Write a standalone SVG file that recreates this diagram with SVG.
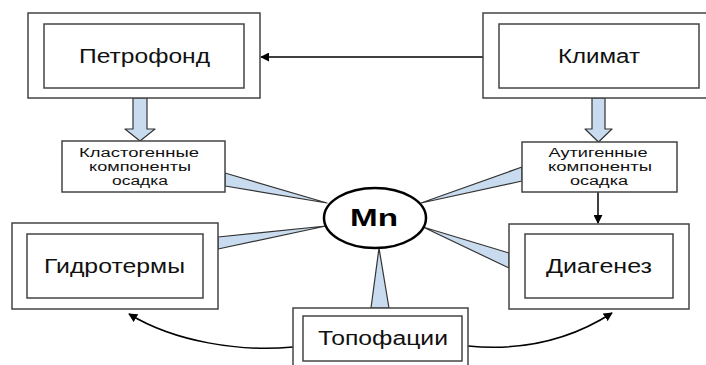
<svg xmlns="http://www.w3.org/2000/svg" width="706" height="365" viewBox="0 0 706 365">
<defs>
<marker id="ah" viewBox="0 0 10 10" refX="9" refY="5" markerWidth="9" markerHeight="9" markerUnits="userSpaceOnUse" orient="auto">
<path d="M0,0 L10,5 L0,10 z" fill="#000"/>
</marker>
</defs>
<style>
.box{fill:#fff;stroke:#444;stroke-width:1.5}
.lbl{font-family:"Liberation Sans",Arial,sans-serif;font-size:20px;fill:#111;text-anchor:middle}
.sm{font-family:"Liberation Sans",Arial,sans-serif;font-size:12.5px;fill:#111;text-anchor:middle}
.wedge{fill:#c9dcef;stroke:#333;stroke-width:1.2;stroke-linejoin:round}
.line{fill:none;stroke:#000;stroke-width:1.5}
</style>
<rect width="706" height="365" fill="#fff"/>
<g id="connectors">
<line class="line" x1="483" y1="57" x2="261" y2="57" marker-end="url(#ah)"/>
<path class="wedge" d="M133,98 V129 H125 L140,141 L155,129 H147 V98 Z"/>
<path class="wedge" d="M592,98 V129 H585 L598.5,142 L612,129 H605 V98 Z"/>
<line class="line" x1="598" y1="192" x2="598" y2="223" marker-end="url(#ah)"/>
<path class="wedge" d="M225,173 L327,203 L225,186 Z"/>
<path class="wedge" d="M218,237 L326,226 L218,249 Z"/>
<path class="wedge" d="M522,167 L421,203 L522,181 Z"/>
<path class="wedge" d="M509,253 L423,227 L509,268 Z"/>
<path class="wedge" d="M371,308 L379,248 L389,308 Z"/>
<path class="line" d="M293,347 C240,352 175,342 129,314" marker-end="url(#ah)"/>
<path class="line" d="M468,346 C520,351 570,340 612,313" marker-end="url(#ah)"/>
</g>
<g id="petrofond">
<rect class="box" x="28" y="13" width="232" height="85"/>
<rect class="box" x="44" y="24" width="200" height="64"/>
<text class="lbl" x="144.5" y="63" textLength="131" lengthAdjust="spacingAndGlyphs">Петрофонд</text>
</g>
<g id="klimat">
<rect class="box" x="483" y="13" width="230" height="85"/>
<rect class="box" x="499" y="24" width="200" height="64"/>
<text class="lbl" x="599" y="63" textLength="82" lengthAdjust="spacingAndGlyphs">Климат</text>
</g>
<g id="klastogen">
<rect class="box" x="62" y="141" width="163" height="51"/>
<text class="sm" x="139" y="157" textLength="120" lengthAdjust="spacingAndGlyphs">Кластогенные</text>
<text class="sm" x="140" y="171" textLength="102" lengthAdjust="spacingAndGlyphs">компоненты</text>
<text class="sm" x="140" y="185" textLength="56" lengthAdjust="spacingAndGlyphs">осадка</text>
</g>
<g id="autigen">
<rect class="box" x="522" y="142" width="155" height="50"/>
<text class="sm" x="598" y="157" textLength="99" lengthAdjust="spacingAndGlyphs">Аутигенные</text>
<text class="sm" x="600" y="171" textLength="104" lengthAdjust="spacingAndGlyphs">компоненты</text>
<text class="sm" x="599" y="185" textLength="58" lengthAdjust="spacingAndGlyphs">осадка</text>
</g>
<g id="mn">
<ellipse cx="375" cy="218" rx="51" ry="30" fill="#fff" stroke="#000" stroke-width="2.5"/>
<text x="374" y="226" font-family="'Liberation Sans',Arial,sans-serif" font-size="24" font-weight="bold" text-anchor="middle" fill="#000" textLength="48" lengthAdjust="spacingAndGlyphs">Mn</text>
</g>
<g id="gidrotermy">
<rect class="box" x="12" y="223" width="206" height="86"/>
<rect class="box" x="27" y="234" width="176" height="64"/>
<text class="lbl" x="114.5" y="273" textLength="141" lengthAdjust="spacingAndGlyphs">Гидротермы</text>
</g>
<g id="diagenez">
<rect class="box" x="509" y="224" width="180" height="85"/>
<rect class="box" x="525" y="234" width="148" height="64"/>
<text class="lbl" x="599" y="273" textLength="106" lengthAdjust="spacingAndGlyphs">Диагенез</text>
</g>
<g id="topofacii">
<rect class="box" x="293" y="308" width="175" height="70"/>
<rect class="box" x="303" y="316" width="159" height="45"/>
<text class="lbl" x="383" y="345" textLength="130" lengthAdjust="spacingAndGlyphs">Топофации</text>
</g>
</svg>
